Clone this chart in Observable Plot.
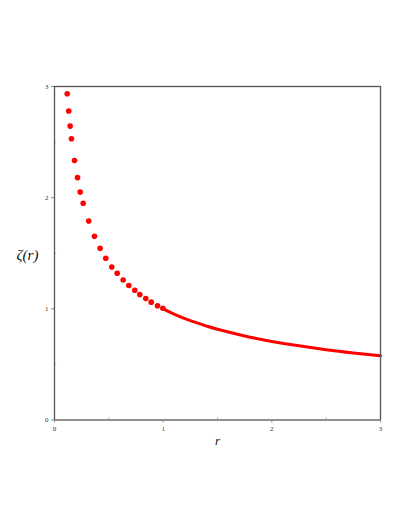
<!DOCTYPE html>
<html><head><meta charset="utf-8">
<script src="https://cdn.jsdelivr.net/npm/d3@7"></script>
<script src="https://cdn.jsdelivr.net/npm/@observablehq/plot@0.6"></script>
<style>body{margin:0;background:#fff;} svg{display:block;}</style>
</head><body><div id="chart"></div>
<script>
// Dots (r < 1)
const dotR = [0.117,0.131,0.144,0.156,0.184,0.212,0.236,0.264,0.315,0.368,0.42,0.472,0.527,0.577,0.632,0.684,0.739,0.785,0.84,0.89,0.948,0.997];
const dotZ = [2.935,2.78,2.644,2.53,2.335,2.18,2.05,1.95,1.79,1.653,1.545,1.455,1.376,1.32,1.26,1.21,1.167,1.128,1.092,1.06,1.028,1.005];
// Curve (r >= 1)
const lineR = [1,1.1,1.25,1.4,1.5,1.75,2,2.25,2.5,2.75,3];
const lineZ = [1.0,0.953,0.894,0.845,0.816,0.756,0.707,0.667,0.632,0.603,0.577];
const majorTicks = [0,1,2,3];
const minorTicks = [0.5,1.5,2.5];

const dots = dotR.map((r,i)=>({r, z: dotZ[i]}));
const line = lineR.map((r,i)=>({r, z: lineZ[i]}));

const chart = Plot.plot({
  width: 409, height: 529,
  marginLeft: 54, marginRight: 29, marginTop: 86, marginBottom: 109.5,
  style: {fontFamily: "'Liberation Serif', serif", background: "#fff"},
  x: {type: "linear", domain: [0,3], label: null, axis: null},
  y: {type: "linear", domain: [0,3], label: null, axis: null},
  marks: [
    Plot.line(line, {x: "r", y: "z", stroke: "#ff0000", strokeWidth: 3, curve: "natural"}),
    Plot.dot(dots, {x: "r", y: "z", r: 2.8, fill: "#ff0000", stroke: "none"}),
    Plot.ruleX(minorTicks, {x: d=>d, y1: 0, y2: 0.02, stroke: "#bbb", strokeWidth: 1}),
    Plot.ruleY(minorTicks, {y: d=>d, x1: 0, x2: 0.02, stroke: "#bbb", strokeWidth: 1}),
    Plot.frame({stroke: "#555", strokeWidth: 1.3}),
    Plot.axisX(majorTicks, {tickSize: 3, tickPadding: 3, fontSize: 7, color: "#333", stroke: "#888", label: null, tickFormat: d3.format("d")}),
    Plot.axisY(majorTicks, {tickSize: 3, tickPadding: 3, fontSize: 7, color: "#333", stroke: "#888", label: null, tickFormat: d3.format("d")}),
    Plot.text(["r"], {frameAnchor: "bottom", dy: 25, fontSize: 13, fontStyle: "italic", fill: "#111"}),
    Plot.text(["ζ(r)"], {frameAnchor: "left", textAnchor: "middle", dx: -27, dy: 2, fontSize: 15, fill: "#111", fontStyle: "italic"})
  ]
});
document.getElementById("chart").append(chart);
</script>
</body></html>
